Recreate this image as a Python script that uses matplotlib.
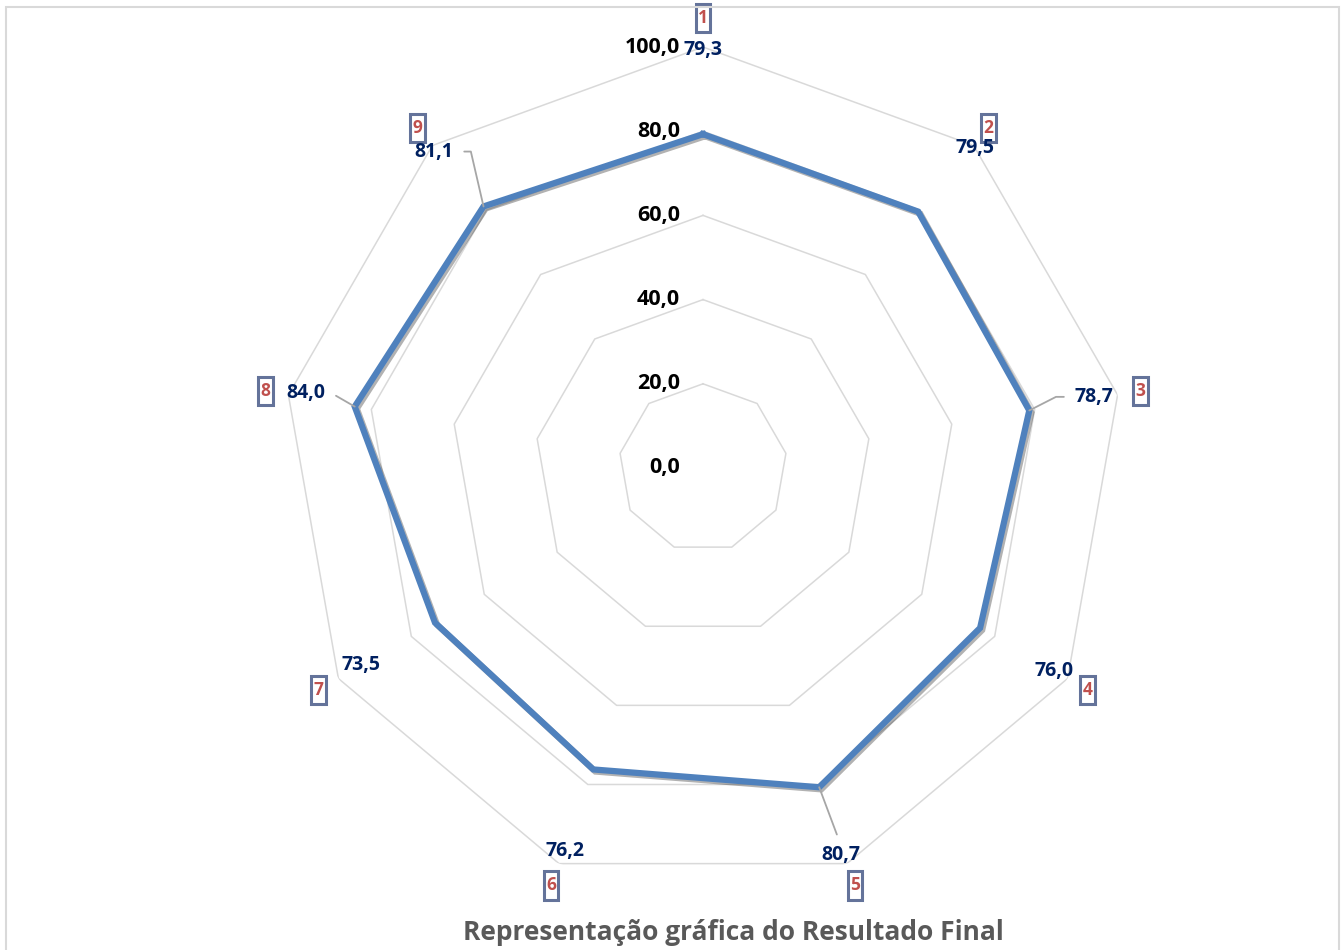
import numpy as np
import matplotlib.pyplot as plt
from matplotlib import patheffects as pe
from matplotlib.patches import Rectangle
from matplotlib.path import Path

plt.rcParams['font.family'] = ['Open Sans', 'DejaVu Sans']

categories = ['1', '2', '3', '4', '5', '6', '7', '8', '9']
values = [79.3, 79.5, 78.7, 76.0, 80.7, 76.2, 73.5, 84.0, 81.1]
grid_levels = [0, 20, 40, 60, 80, 100]
grid_labels = ['0,0', '20,0', '40,0', '60,0', '80,0', '100,0']
title = 'Representação gráfica do Resultado Final'

# where the data labels sit (compass angle in degrees, radius in axis units)
label_pos = [(0, 99.3), (40.4, 99.8), (79.7, 94.5), (120, 96.2), (160.4, 97.6),
             (199.8, 96.7), (240, 93.8), (280.7, 96.0), (319.6, 98.7)]
# leader lines: connectionstyle + where the line leaves the text
leaders = {2: ('angle,angleA=0,angleB=27,rad=0', (0, 0.5)),
           4: ('arc3', (0.5, 1)),
           7: ('angle,angleA=0,angleB=150,rad=0', (1, 0.5)),
           8: ('angle,angleA=0,angleB=103,rad=0', (1, 0.5))}

W, H = 1341, 950
cx, cy, R = 703, 468, 421


def tall_box(x0, y0, width, height, mutation_size):
    # narrow, tall frame like the excel category boxes
    px, py = 0.13 * mutation_size, 0.3 * mutation_size
    x0, y0 = x0 - px, y0 - py
    x1, y1 = x0 + width + 2 * px, y0 + height + 2 * py
    return Path([(x0, y0), (x1, y0), (x1, y1), (x0, y1), (x0, y0)],
                closed=True)


fig = plt.figure(figsize=(W / 100, H / 100), dpi=100)
fig.patches.append(Rectangle((6 / W, -0.1), (1339 - 6) / W, 1.1 - 7 / H,
                             transform=fig.transFigure, fill=False,
                             edgecolor='#D9D9D9', linewidth=1.5))

ax = fig.add_axes([(cx - R) / W, (H - cy - R) / H, 2 * R / W, 2 * R / H],
                  projection='polar')
ax.set_theta_zero_location('N')
ax.set_theta_direction(-1)
ax.set_ylim(0, 100)
ax.set_xticks([])
ax.set_yticks([])
ax.grid(False)
ax.spines['polar'].set_visible(False)
ax.patch.set_alpha(0)

n = len(categories)
theta = np.deg2rad(np.arange(n) * 360 / n)
theta_closed = np.append(theta, theta[0])

for lev in grid_levels[1:]:
    ax.plot(theta_closed, [lev] * (n + 1), color='#D9D9D9', lw=1.1, zorder=1)

for lev, lab in zip(grid_levels, grid_labels):
    ax.annotate(lab, xy=(0, lev), xytext=(-16.5, 0), textcoords='offset points',
                ha='right', va='center', fontsize=15.5, fontweight='bold',
                color='black', annotation_clip=False)

vals_closed = values + values[:1]
ax.plot(theta_closed, vals_closed, color='#4F81BD', lw=4.5, zorder=3,
        solid_joinstyle='miter',
        path_effects=[pe.SimpleLineShadow(offset=(1.5, -1.5), shadow_color='k', alpha=0.3),
                      pe.Normal()])

for i, (v, (ang, r)) in enumerate(zip(values, label_pos)):
    txt = f'{v:.1f}'.replace('.', ',')
    kw = {}
    if i in leaders:
        style, rel = leaders[i]
        kw['arrowprops'] = dict(arrowstyle='-', color='#A6A6A6', lw=1.3,
                                connectionstyle=style, relpos=rel,
                                shrinkA=6, shrinkB=0)
    ax.annotate(txt, xy=(theta[i], v), xytext=(np.deg2rad(ang), r),
                ha='center', va='center', fontsize=14, fontweight='bold',
                color='#002060', zorder=5, annotation_clip=False, **kw)

for i, cat in enumerate(categories):
    r = 106.9 if i == 0 else 105.5
    ax.text(theta[i], r, cat, ha='center', va='center', fontsize=12.5,
            fontweight='bold', color='#C0504D',
            bbox=dict(boxstyle=tall_box, facecolor='white',
                      edgecolor='#64739A', linewidth=2.2))

fig.text(733 / W, 1 - 932 / H, title, ha='center', va='center',
         fontsize=19, fontweight='bold', color='#595959')

fig.savefig('out.png', dpi=100)
